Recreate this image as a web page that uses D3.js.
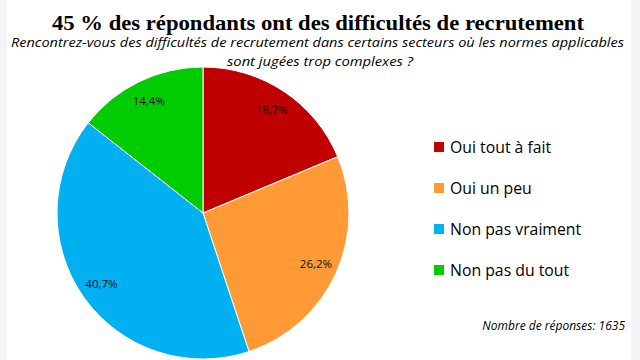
<!DOCTYPE html>
<html><head><meta charset="utf-8">
<script src="https://cdn.jsdelivr.net/npm/d3@7"></script>
<style>
html,body{margin:0;padding:0;background:#fff;}
svg{display:block;}
</style></head>
<body>
<svg id="chart" width="640" height="360"></svg>
<script>
const categories = ["Oui tout à fait", "Oui un peu", "Non pas vraiment", "Non pas du tout"];
const values = [18.7, 26.2, 40.7, 14.4];
const valueLabels = ["18,7%", "26,2%", "40,7%", "14,4%"];
const colors = ["#C00000", "#FF9A36", "#00B0F0", "#00CC00"];
const titleText = "45 % des répondants ont des difficultés de recrutement";
const subtitleLines = ["Rencontrez-vous des difficultés de recrutement dans certains secteurs où les normes applicables", "sont jugées trop complexes ?"];
const noteText = "Nombre de réponses: 1635";

const svg = d3.select("#chart");
const W = 640, H = 360;

// side strips
svg.append("rect").attr("x",0).attr("y",0).attr("width",7).attr("height",H).attr("fill","#f3f4f8");
svg.append("rect").attr("x",631).attr("y",0).attr("width",9).attr("height",H).attr("fill","#f3f4f8");

// title
svg.append("text").attr("x",318).attr("y",30).attr("text-anchor","middle")
  .attr("font-family","Liberation Serif, Times New Roman, serif").attr("font-weight","bold")
  .attr("font-size",21).attr("fill","#000")
  .attr("textLength",532).attr("lengthAdjust","spacingAndGlyphs").text(titleText);
const subLens = [613, 186];
const subX = [317.5, 320];
svg.selectAll(".sub").data(subtitleLines).join("text").attr("class","sub")
  .attr("x",(d,i)=>subX[i]).attr("y",(d,i)=>47+i*19).attr("text-anchor","middle")
  .attr("font-family","Open Sans, sans-serif").attr("font-style","italic")
  .attr("font-size",13).attr("fill","#000").attr("textLength",(d,i)=>subLens[i])
  .attr("lengthAdjust","spacingAndGlyphs")
  .text(d=>d);

// pie
const cx = 203, cy = 213, r = 146;
const pie = d3.pie().sort(null).value(d=>d);
const arcs = pie(values);
const arc = d3.arc().innerRadius(0).outerRadius(r);
const labelArc = d3.arc().innerRadius(r*0.85).outerRadius(r*0.85);
const g = svg.append("g").attr("transform",`translate(${cx},${cy})`);
g.selectAll("path").data(arcs).join("path")
  .attr("d",arc).attr("fill",(d,i)=>colors[i])
  .attr("stroke","#fff").attr("stroke-width",1);
g.selectAll("text").data(arcs).join("text")
  .attr("transform",d=>`translate(${labelArc.centroid(d)})`)
  .attr("text-anchor","middle").attr("dy","0.35em")
  .attr("font-family","Open Sans, sans-serif").attr("font-size",11.5).attr("fill","#111")
  .text((d,i)=>valueLabels[i]);

// legend
const ly = d3.scalePoint().domain(categories).range([147,270]);
const lg = svg.append("g");
lg.selectAll("rect").data(categories).join("rect")
  .attr("x",434).attr("y",d=>ly(d)-5).attr("width",10).attr("height",10)
  .attr("fill",(d,i)=>colors[i]);
lg.selectAll("text").data(categories).join("text")
  .attr("x",450).attr("y",d=>ly(d)).attr("dy","0.35em")
  .attr("font-family","Open Sans, sans-serif").attr("font-size",15.8).attr("fill","#000")
  .text(d=>d);

// note
svg.append("text").attr("x",625).attr("y",330).attr("text-anchor","end")
  .attr("font-family","Open Sans, sans-serif").attr("font-style","italic")
  .attr("font-size",12).attr("fill","#000").text(noteText);
</script>
</body></html>
